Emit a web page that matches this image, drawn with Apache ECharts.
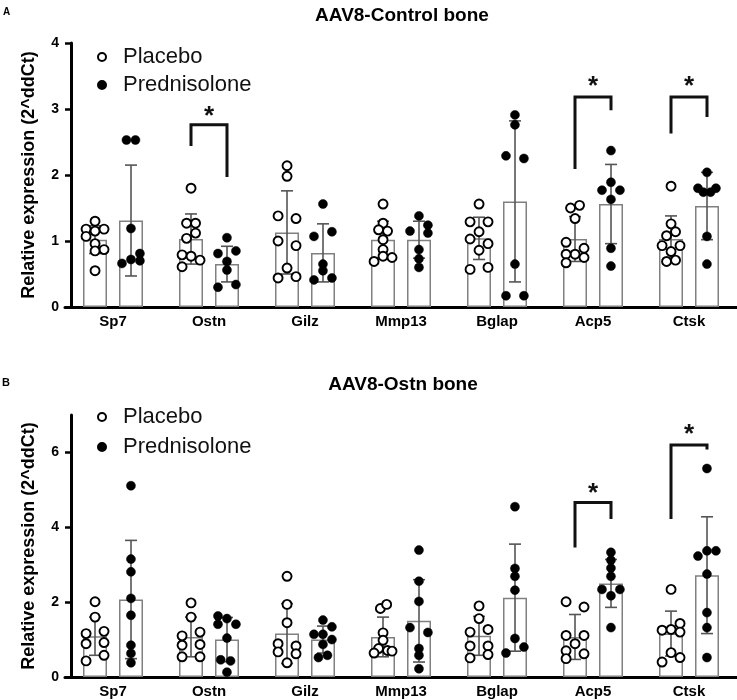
<!DOCTYPE html>
<html><head><meta charset="utf-8">
<script src="https://cdn.jsdelivr.net/npm/echarts@6/dist/echarts.min.js"></script>
<style>html,body{margin:0;padding:0;background:#fff}#c{width:737px;height:700px}</style>
</head><body><div id="c"></div>
<script>
// ---------------- DATA ----------------
const categories = ['Sp7', 'Ostn', 'Gilz', 'Mmp13', 'Bglap', 'Acp5', 'Ctsk'];
const groups = ['Placebo', 'Prednisolone'];
const titleA = 'AAV8-Control bone';
const titleB = 'AAV8-Ostn bone';
const yName = 'Relative expression (2^ddCt)';
const yTicksA = [0, 1, 2, 3, 4];
const yTicksB = [0, 2, 4, 6];

// Panel A (AAV8-Control bone): bar = mean, whisker = SD
const meanPlaceboA = [1.02, 1.03, 1.13, 1.02, 1.04, 1.03, 1.03];
const sdPlaceboA   = [0.21, 0.38, 0.63, 0.28, 0.32, 0.34, 0.35];
const meanPredA    = [1.31, 0.65, 0.82, 1.02, 1.60, 1.56, 1.53];
const sdPredA      = [0.84, 0.27, 0.44, 0.28, 1.22, 0.60, 0.51];
const pointsPlaceboA = [
  [1.30, 1.18, 1.15, 1.18, 1.07, 0.96, 0.87, 0.85, 0.55],
  [1.80, 1.27, 1.27, 1.12, 1.04, 0.79, 0.77, 0.71, 0.61],
  [2.14, 1.98, 1.38, 1.34, 1.00, 0.93, 0.59, 0.44, 0.46],
  [1.56, 1.27, 1.17, 1.15, 1.02, 0.87, 0.77, 0.69, 0.75],
  [1.56, 1.29, 1.29, 1.14, 1.03, 0.96, 0.86, 0.57, 0.60],
  [1.50, 1.54, 1.34, 0.98, 0.80, 0.80, 0.89, 0.75, 0.67],
  [1.83, 1.26, 1.14, 1.08, 0.93, 0.93, 0.84, 0.69, 0.71]
];
const pointsPredA = [
  [2.53, 2.53, 1.19, 0.81, 0.72, 0.70, 0.66],
  [1.05, 0.81, 0.85, 0.69, 0.56, 0.30, 0.34],
  [1.56, 1.07, 1.14, 0.65, 0.55, 0.41, 0.44],
  [1.38, 1.15, 1.24, 1.12, 0.87, 0.73, 0.60],
  [2.91, 2.76, 2.29, 2.25, 0.65, 0.17, 0.17],
  [2.37, 1.89, 1.77, 1.77, 1.63, 0.89, 0.62],
  [2.04, 1.80, 1.74, 1.74, 1.80, 1.07, 0.65]
];
// Panel B (AAV8-Ostn bone)
const meanPlaceboB = [1.09, 1.07, 1.16, 1.07, 1.10, 1.07, 1.16];
const sdPlaceboB   = [0.51, 0.53, 0.80, 0.53, 0.52, 0.60, 0.60];
const meanPredB    = [2.07, 1.00, 1.00, 1.50, 2.12, 2.50, 2.72];
const sdPredB      = [1.58, 0.59, 0.36, 1.10, 1.43, 0.64, 1.56];
const pointsPlaceboB = [
  [2.01, 1.60, 1.16, 1.22, 0.89, 0.92, 0.58, 0.43],
  [1.98, 1.60, 1.10, 1.20, 0.85, 0.87, 0.54, 0.54],
  [2.69, 1.94, 1.45, 0.89, 0.83, 0.67, 0.62, 0.38],
  [1.83, 1.94, 1.18, 0.98, 0.76, 0.71, 0.64, 0.69],
  [1.90, 1.56, 1.20, 1.27, 0.83, 0.83, 0.51, 0.60],
  [2.01, 1.87, 1.11, 1.11, 0.89, 0.70, 0.62, 0.49],
  [2.34, 1.25, 1.27, 1.43, 1.20, 0.65, 0.40, 0.52]
];
const pointsPredB = [
  [5.11, 3.15, 2.81, 2.10, 1.65, 0.85, 0.63, 0.38],
  [1.63, 1.56, 1.41, 1.41, 1.04, 0.46, 0.43, 0.13],
  [1.52, 1.34, 1.14, 1.14, 1.00, 0.87, 0.52, 0.58],
  [3.39, 2.56, 2.02, 1.32, 1.19, 0.76, 0.58, 0.22],
  [4.55, 2.90, 2.69, 2.32, 1.03, 0.64, 0.80],
  [3.33, 3.12, 2.91, 2.69, 2.34, 2.34, 2.17, 1.32],
  [5.57, 3.23, 3.37, 3.37, 2.75, 1.72, 1.32, 0.52]
];
// significance brackets: [category index, left end, top, right end, asterisk level]
const bracketsA = [[1, 2.44, 2.76, 1.97, 2.96], [5, 2.09, 3.18, 2.98, 3.41], [6, 2.63, 3.18, 2.88, 3.41]];
const bracketsB = [[5, 3.46, 4.66, 4.22, 5.04], [6, 4.22, 6.20, 6.08, 6.60]];

// beeswarm column of each dot (layout, in dot columns)
const jitPlaceboA = [
  [0,-1,0,1,-1,0,1,0,0],[0,-0.5,0.5,0.5,-0.5,-1,0,1,-1],[0,0,-1,1,-1,1,0,-1,1],
  [0,0,-0.5,0.5,0,0,0,-1,1],[0,-1,1,0,-1,1,0,-1,1],[-0.5,0.5,0,-1,0,-1,1,1,-1],
  [0,0,0.5,-0.5,-1,1,0,-0.5,0.5]
];
const jitPredA = [
  [-0.5,0.5,0,1,0,1,-1],[0,-1,1,0,0,-1,1],[0,-1,1,0,0,-1,1],[0,-1,1,1,0,0,0],
  [0,0,-1,1,0,-1,1],[0,0,-1,1,0,0,0],[0,-1,-0.4,0.4,1,0,0]
];
const jitPlaceboB = [
  [0,0,-1,1,-1,1,1,-1],[0,0,-1,1,-1,1,-1,1],[0,0,0,-1,1,-1,1,0],[-0.3,0.4,0,0,-0.5,0.5,-1,1],
  [0,0,-1,1,-1,1,-1,1],[-1,1,-1,1,0,-1,1,-1],[0,-1,0,1,1,0,-1,1]
];
const jitPredB = [
  [0,0,0,0,0,0,0,0],[-1,0,1,-1,0,-0.7,0.4,0],[0,1,-1,0,1,0,-0.5,0.5],[0,0,0,-1,1,0,0,0],
  [0,0,0,0,0,-1,1],[0,0,0,0,-1,1,0,0],[0,-1,0,1,0,0,0,0]
];

// ---------------- LAYOUT / STYLE ----------------
const FONT = '"Liberation Sans", Arial, Helvetica, sans-serif';
const GRID_W = 674;
const BAND = GRID_W / categories.length;
const GROUP_PX = 18;      // bar centre offset from category centre
const COL_PX = 9;         // beeswarm column width
const chart = echarts.init(document.getElementById('c'), null, {renderer: 'canvas'});

function dotData(points, jit, g) {
  const out = [];
  points.forEach((arr, i) => arr.forEach((v, k) => {
    out.push([i + (g * GROUP_PX + jit[i][k] * COL_PX) / BAND, v]);
  }));
  return out;
}
function errData(mean, sd, g) { return mean.map((m, i) => [i, m, sd[i], g]); }

function errorSeries(name, mean, sd, g, xi, yi) {
  return {
    type: 'custom', name: name, xAxisIndex: xi, yAxisIndex: yi, z: 3, silent: true,
    data: errData(mean, sd, g),
    renderItem: function (params, api) {
      const i = api.value(0), m = api.value(1), s = api.value(2), gg = api.value(3);
      const x = api.coord([i, m])[0] + gg * GROUP_PX;
      const yT = api.coord([i, m + s])[1];
      const yB = api.coord([i, Math.max(m - s, 0)])[1];
      const st = {stroke: '#555', lineWidth: 1.6};
      return {type: 'group', children: [
        {type: 'line', shape: {x1: x, y1: yT, x2: x, y2: yB}, style: st},
        {type: 'line', shape: {x1: x - 6, y1: yT, x2: x + 6, y2: yT}, style: st},
        {type: 'line', shape: {x1: x - 6, y1: yB, x2: x + 6, y2: yB}, style: st}
      ]};
    }
  };
}
function barSeries(name, mean, xi, yi) {
  return {
    type: 'bar', name: name, xAxisIndex: xi, yAxisIndex: yi, data: mean, z: 1,
    barWidth: 24, barGap: '50%', silent: true,
    itemStyle: {color: '#ffffff', borderColor: '#808080', borderWidth: 1.5}
  };
}
function dotSeries(name, data, xi, yi, filled) {
  return {
    type: 'scatter', name: name, xAxisIndex: xi, yAxisIndex: yi, data: data, z: 5,
    symbol: 'circle', symbolSize: 9, silent: true,
    itemStyle: {color: filled ? '#000' : '#fff', borderColor: '#000', borderWidth: filled ? 0.5 : 1.9, opacity: 1}
  };
}
function bracketSeries(data, xi, yi) {
  return {
    type: 'custom', xAxisIndex: xi, yAxisIndex: yi, z: 6, silent: true, clip: false,
    data: data,
    renderItem: function (params, api) {
      const i = api.value(0);
      const xc = api.coord([i, 0])[0];
      const xL = xc - GROUP_PX, xR = xc + GROUP_PX;
      const yL = api.coord([i, api.value(1)])[1];
      const yT = api.coord([i, api.value(2)])[1];
      const yR = api.coord([i, api.value(3)])[1];
      const yS = api.coord([i, api.value(4)])[1];
      return {type: 'group', children: [
        {type: 'polyline', shape: {points: [[xL, yL], [xL, yT], [xR, yT], [xR, yR]]},
         style: {stroke: '#111', lineWidth: 3, fill: null}},
        {type: 'text', x: xc, y: yS + 5,
         style: {text: '*', fontSize: 26, fontWeight: 'bold', fontFamily: FONT, fill: '#111',
                 align: 'center', verticalAlign: 'middle'}}
      ]};
    }
  };
}
function catAxis(gi) {
  return {
    type: 'category', gridIndex: gi, data: categories,
    axisLine: {show: true, onZero: false, lineStyle: {color: '#000', width: 3}},
    axisTick: {show: false},
    axisLabel: {color: '#000', fontFamily: FONT, fontWeight: 'bold', fontSize: 15, margin: 7, interval: 0},
    splitLine: {show: false}
  };
}
function valXAxis(gi) {
  return {type: 'value', gridIndex: gi, min: -0.5, max: categories.length - 0.5, show: false};
}
function yAxis(gi, max, interval, ticks) {
  return {
    type: 'value', gridIndex: gi, min: 0, max: max, interval: interval, offset: -6,
    axisLine: {show: true, onZero: false, lineStyle: {color: '#000', width: 3}},
    axisTick: {show: true, length: 6, lineStyle: {color: '#000', width: 2.5}, customValues: ticks},
    axisLabel: {color: '#000', fontFamily: FONT, fontWeight: 'bold', fontSize: 14, margin: 12, customValues: ticks},
    splitLine: {show: false},
    name: yName, nameLocation: 'middle', nameGap: 33,
    nameTextStyle: {color: '#000', fontFamily: FONT, fontWeight: 'bold', fontSize: 18}
  };
}
function legend(top, gap) {
  return {
    data: groups, orient: 'vertical', left: 92, top: top, itemGap: gap,
    itemWidth: 8, itemHeight: 8, selectedMode: false,
    textStyle: {color: '#111', fontFamily: FONT, fontSize: 22, lineHeight: 22, padding: [0, 0, 0, 12]}
  };
}

const option = {
  animation: false,
  backgroundColor: '#fff',
  title: [
    {text: titleA, left: 397, top: 1, textAlign: 'center',
     textStyle: {color: '#000', fontFamily: FONT, fontWeight: 'bold', fontSize: 19}},
    {text: titleB, left: 398, top: 370, textAlign: 'center',
     textStyle: {color: '#000', fontFamily: FONT, fontWeight: 'bold', fontSize: 19}}
  ],
  graphic: [
    {type: 'text', left: 3, top: 7, style: {text: 'A', fontFamily: FONT, fontWeight: 'bold', fontSize: 10, fill: '#000'}},
    {type: 'text', left: 2, top: 377, style: {text: 'B', fontFamily: FONT, fontWeight: 'bold', fontSize: 11, fill: '#000'}}
  ],
  legend: [legend(41, 6), legend(401, 8)],
  grid: [
    {left: 65, top: 43, width: GRID_W, height: 264},
    {left: 65, top: 415, width: GRID_W, height: 262}
  ],
  xAxis: [catAxis(0), valXAxis(0), catAxis(1), valXAxis(1)],
  yAxis: [yAxis(0, 4, 1, yTicksA), yAxis(1, 7, 1, yTicksB)],
  series: [
    barSeries('Placebo mean', meanPlaceboA, 0, 0),
    barSeries('Prednisolone mean', meanPredA, 0, 0),
    errorSeries('Placebo SD', meanPlaceboA, sdPlaceboA, -1, 0, 0),
    errorSeries('Prednisolone SD', meanPredA, sdPredA, 1, 0, 0),
    dotSeries('Placebo', dotData(pointsPlaceboA, jitPlaceboA, -1), 1, 0, false),
    dotSeries('Prednisolone', dotData(pointsPredA, jitPredA, 1), 1, 0, true),
    bracketSeries(bracketsA, 0, 0),

    barSeries('Placebo mean', meanPlaceboB, 2, 1),
    barSeries('Prednisolone mean', meanPredB, 2, 1),
    errorSeries('Placebo SD', meanPlaceboB, sdPlaceboB, -1, 2, 1),
    errorSeries('Prednisolone SD', meanPredB, sdPredB, 1, 2, 1),
    dotSeries('Placebo', dotData(pointsPlaceboB, jitPlaceboB, -1), 3, 1, false),
    dotSeries('Prednisolone', dotData(pointsPredB, jitPredB, 1), 3, 1, true),
    bracketSeries(bracketsB, 2, 1)
  ]
};
chart.setOption(option);
</script></body></html>
